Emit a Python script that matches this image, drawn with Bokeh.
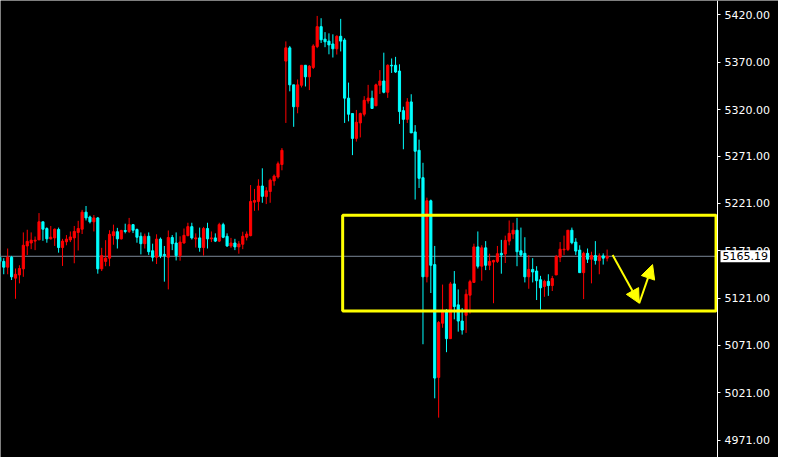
from bokeh.plotting import figure
from bokeh.models import (Range1d, FixedTicker, PrintfTickFormatter, Label,
                          Arrow, NormalHead, ColumnDataSource)
from bokeh.embed import file_html
from bokeh.resources import INLINE

# ---------------- data ----------------
opens = [5164.2, 5159.8, 5153.7, 5164.2, 5142.1, 5145.5, 5151.9, 5176.1, 5179.2, 5181.2,
         5182.5, 5201.6, 5194.5, 5183.6, 5184.6, 5193.5, 5174.4, 5180.5, 5182.5, 5184.6,
         5190.4, 5193.8, 5211.8, 5206.7, 5201.6, 5205.7, 5151.9, 5159.8, 5163.2, 5187.0,
         5191.1, 5183.6, 5192.4, 5191.4, 5198.6, 5193.5, 5186.3, 5178.5, 5186.3, 5171.0,
         5164.2, 5183.3, 5167.2, 5164.2, 5185.0, 5179.2, 5165.9, 5179.2, 5187.0, 5196.5,
         5183.6, 5184.6, 5174.4, 5194.5, 5183.6, 5184.6, 5181.2, 5198.6, 5186.3, 5176.1,
         5179.2, 5175.1, 5177.9, 5185.3, 5187.0, 5222.3, 5223.1, 5239.4, 5228.2, 5233.6,
         5244.8, 5248.9, 5262.1, 5371.3, 5385.3, 5346.2, 5323.1, 5345.8, 5366.9, 5354.7,
         5364.6, 5386.6, 5407.7, 5394.5, 5392.4, 5389.4, 5384.3, 5397.5, 5393.5, 5332.2,
         5315.9, 5289.7, 5306.0, 5315.2, 5329.2, 5332.2, 5324.1, 5345.8, 5350.3, 5338.4,
         5366.9, 5366.9, 5360.8, 5319.0, 5309.8, 5328.2, 5296.5, 5277.1, 5248.2, 5143.5,
         5223.8, 5156.4, 5037.3, 5094.5, 5108.1, 5078.2, 5136.0, 5113.9, 5096.8, 5102.9,
         5124.1, 5137.6, 5175.1, 5154.7, 5174.1, 5155.7, 5159.1, 5159.8, 5168.3, 5167.6,
         5181.2, 5188.7, 5192.7, 5171.0, 5168.3, 5143.5, 5151.3, 5149.6, 5140.4, 5133.3,
         5138.7, 5134.3, 5145.5, 5164.2, 5172.0, 5172.3, 5192.7, 5180.2, 5171.7, 5147.9,
         5168.3, 5162.1, 5165.9, 5160.5, 5165.6, 5163.2]
highs = [5167.9, 5163.2, 5173.4, 5165.6, 5152.3, 5155.7, 5190.4, 5193.2, 5190.4, 5186.0,
         5210.8, 5201.6, 5195.8, 5197.2, 5194.5, 5195.5, 5183.6, 5187.6, 5191.4, 5197.2,
         5202.6, 5214.2, 5218.3, 5208.1, 5208.8, 5206.7, 5174.1, 5182.2, 5192.7, 5198.6,
         5195.2, 5193.2, 5199.6, 5205.7, 5199.3, 5194.5, 5190.4, 5189.1, 5190.4, 5178.5,
         5188.4, 5185.0, 5176.1, 5192.4, 5187.6, 5190.4, 5186.3, 5194.5, 5200.6, 5200.6,
         5189.4, 5195.5, 5196.2, 5200.6, 5191.4, 5189.4, 5200.6, 5200.6, 5189.4, 5184.6,
         5183.6, 5181.2, 5191.1, 5191.4, 5240.4, 5236.3, 5246.5, 5258.1, 5238.1, 5247.2,
         5251.6, 5265.2, 5279.5, 5392.1, 5387.3, 5346.2, 5351.9, 5366.9, 5366.9, 5367.2,
         5389.1, 5419.0, 5416.6, 5401.9, 5400.6, 5399.6, 5398.6, 5415.9, 5395.5, 5348.6,
         5315.9, 5319.7, 5316.9, 5334.3, 5346.2, 5340.1, 5347.5, 5361.8, 5380.2, 5367.9,
         5374.1, 5375.8, 5367.9, 5323.1, 5332.2, 5336.3, 5303.7, 5288.4, 5263.9, 5227.1,
         5225.1, 5176.1, 5096.8, 5135.3, 5109.5, 5138.1, 5149.6, 5130.2, 5110.5, 5130.2,
         5140.4, 5178.5, 5191.4, 5176.8, 5181.2, 5167.9, 5161.5, 5176.1, 5182.5, 5187.0,
         5203.0, 5200.6, 5205.7, 5195.5, 5185.3, 5166.6, 5163.2, 5154.7, 5144.5, 5140.4,
         5146.2, 5144.5, 5166.6, 5180.2, 5187.0, 5192.7, 5195.5, 5184.3, 5176.8, 5170.0,
         5173.4, 5170.0, 5181.2, 5168.3, 5168.3, 5172.3]
lows = [5156.7, 5146.2, 5146.2, 5140.1, 5120.3, 5136.6, 5143.5, 5166.6, 5172.7, 5171.7,
        5182.5, 5181.5, 5179.5, 5182.9, 5176.1, 5169.0, 5155.0, 5176.8, 5180.2, 5157.8,
        5171.3, 5188.7, 5203.0, 5199.9, 5191.4, 5146.8, 5149.6, 5154.7, 5154.7, 5177.4,
        5173.4, 5182.9, 5189.4, 5189.7, 5189.7, 5179.5, 5167.2, 5173.4, 5166.6, 5159.8,
        5157.0, 5163.2, 5138.4, 5130.2, 5171.7, 5160.8, 5160.5, 5178.5, 5186.3, 5182.9,
        5174.4, 5170.0, 5165.9, 5173.4, 5180.2, 5180.2, 5180.2, 5184.3, 5175.1, 5174.1,
        5171.7, 5167.9, 5172.7, 5181.9, 5186.3, 5213.2, 5213.6, 5221.7, 5220.3, 5221.7,
        5239.7, 5247.2, 5256.0, 5306.0, 5339.4, 5301.9, 5316.2, 5343.5, 5344.5, 5340.7,
        5362.9, 5385.0, 5390.4, 5386.0, 5378.5, 5375.1, 5378.2, 5381.5, 5306.0, 5307.7,
        5272.0, 5286.3, 5290.7, 5312.9, 5326.4, 5321.3, 5324.1, 5336.6, 5337.3, 5332.5,
        5358.8, 5358.8, 5305.0, 5278.2, 5306.0, 5295.5, 5225.1, 5237.3, 5072.3, 5137.6,
        5126.4, 5015.2, 4994.8, 5089.7, 5063.9, 5078.2, 5098.6, 5085.6, 5082.5, 5084.3,
        5104.7, 5137.6, 5152.3, 5139.4, 5150.6, 5150.6, 5115.6, 5158.1, 5146.8, 5158.1,
        5176.8, 5183.6, 5154.7, 5164.9, 5137.6, 5130.9, 5137.6, 5119.0, 5108.8, 5122.4,
        5123.4, 5128.5, 5145.5, 5159.1, 5166.6, 5170.7, 5177.9, 5166.6, 5147.9, 5120.0,
        5158.1, 5136.6, 5156.4, 5146.2, 5156.4, 5159.8]
closes = [5159.8, 5153.7, 5164.2, 5143.5, 5146.2, 5152.3, 5176.8, 5180.9, 5182.2, 5182.2,
          5201.6, 5193.8, 5183.6, 5185.3, 5193.8, 5174.4, 5181.2, 5183.3, 5185.6, 5191.4,
          5194.5, 5211.8, 5205.7, 5201.6, 5205.7, 5151.9, 5165.9, 5163.2, 5188.4, 5191.1,
          5183.6, 5192.4, 5191.4, 5198.6, 5192.7, 5185.3, 5178.5, 5186.3, 5170.0, 5164.2,
          5183.3, 5165.6, 5165.9, 5185.0, 5178.5, 5165.9, 5180.2, 5187.3, 5196.5, 5184.6,
          5184.6, 5174.4, 5194.5, 5183.6, 5184.6, 5181.2, 5198.6, 5185.3, 5176.1, 5179.2,
          5175.1, 5178.2, 5186.3, 5188.7, 5223.1, 5224.1, 5239.4, 5228.5, 5234.3, 5245.5,
          5249.9, 5262.9, 5277.1, 5385.3, 5346.2, 5323.1, 5346.2, 5366.9, 5354.7, 5365.9,
          5387.3, 5407.7, 5393.8, 5391.7, 5388.4, 5384.3, 5397.5, 5392.4, 5332.2, 5315.2,
          5289.7, 5306.7, 5315.9, 5329.9, 5332.2, 5321.3, 5346.2, 5350.3, 5338.4, 5366.9,
          5366.2, 5359.8, 5318.0, 5309.8, 5328.2, 5295.5, 5276.1, 5247.5, 5143.5, 5223.8,
          5155.7, 5036.6, 5095.2, 5108.1, 5078.2, 5136.0, 5112.1, 5096.8, 5087.3, 5125.1,
          5138.4, 5175.1, 5154.7, 5174.1, 5155.7, 5159.8, 5160.8, 5167.9, 5166.6, 5181.9,
          5189.4, 5192.7, 5170.0, 5166.6, 5143.5, 5151.3, 5148.6, 5139.4, 5131.9, 5138.7,
          5134.3, 5141.7, 5164.9, 5172.7, 5172.7, 5192.7, 5179.5, 5170.7, 5147.9, 5168.3,
          5162.1, 5165.9, 5160.8, 5165.6, 5163.2, 5165.19]
bar_index = list(range(1, len(closes) + 1))

tick_values = [4971, 5021, 5071, 5121, 5171, 5221, 5271, 5320, 5370, 5420]
last_price = closes[-1]

zone_index = [88.5, 183.8]          # left / right of yellow box (bar index)
zone_price = [5107.4, 5208.5]       # bottom / top of yellow box
arrow_index = [157.4, 164.2, 167.6] # projected path
arrow_price = [5166.6, 5115.6, 5156.4]

view_index = [1.17, 199.74]         # visible bar range (incl. price-scale strip)
scale_index = 184.17                # where the price scale sits
view_price = [4952.7, 5435.3]

UP = "#ff0000"
DOWN = "#00ffff"
YELLOW = "#ffff00"
FONT = "DejaVu Sans"

# ---------------- build ----------------
colors = [UP if c >= o else DOWN for o, c in zip(opens, closes)]
src = ColumnDataSource(dict(
    x=bar_index, o=opens, h=highs, l=lows, c=closes,
    top=[max(o, c) for o, c in zip(opens, closes)],
    bottom=[min(o, c) for o, c in zip(opens, closes)],
    color=colors,
))

p = figure(width=778, height=457, output_backend="svg", toolbar_location=None,
           x_range=Range1d(*view_index), y_range=Range1d(*view_price),
           x_axis_location=None, y_axis_location="right",
           background_fill_color="black", border_fill_color="black",
           min_border_left=0, min_border_top=0, min_border_bottom=0,
           min_border_right=0)
p.outline_line_color = None
p.xgrid.visible = False
p.ygrid.visible = False

# current price line (behind candles), up to the price scale
p.segment(x0=[view_index[0]], x1=[scale_index], y0=[last_price], y1=[last_price],
          line_color="#7b8897", line_width=1)

p.segment(x0="x", y0="h", x1="x", y1="l", color="color", line_width=1, source=src)
p.vbar(x="x", width=0.55, top="top", bottom="bottom", fill_color="color",
       line_color="color", line_width=1, source=src)

# yellow range box
p.quad(left=[zone_index[0]], right=[zone_index[1]], bottom=[zone_price[0]],
       top=[zone_price[1]], fill_alpha=0, line_color=YELLOW, line_width=3)

# projected arrows
for i in range(len(arrow_index) - 1):
    p.add_layout(Arrow(x_start=arrow_index[i], y_start=arrow_price[i],
                       x_end=arrow_index[i + 1], y_end=arrow_price[i + 1],
                       line_color=YELLOW, line_width=2,
                       end=NormalHead(size=14, fill_color=YELLOW, line_color=YELLOW)))

ax = p.yaxis[0]
ax.fixed_location = scale_index
ax.ticker = FixedTicker(ticks=tick_values, minor_ticks=[])
ax.formatter = PrintfTickFormatter(format="%.2f")
ax.axis_line_color = "white"
ax.major_tick_line_color = "white"
ax.major_tick_out = 3
ax.major_tick_in = 0
ax.minor_tick_line_color = None
ax.major_label_text_color = "white"
ax.major_label_text_font = FONT
ax.major_label_text_font_size = "11px"
ax.major_label_standoff = 4

# price tag on the scale
p.add_layout(Label(x=scale_index, y=last_price, x_offset=3, text=f"{last_price:.2f}",
                   text_color="black", text_font=FONT, text_font_size="11px",
                   text_baseline="middle", text_align="left",
                   background_fill_color="white", padding=2))

open("out.html", "w").write(file_html(p, INLINE))
